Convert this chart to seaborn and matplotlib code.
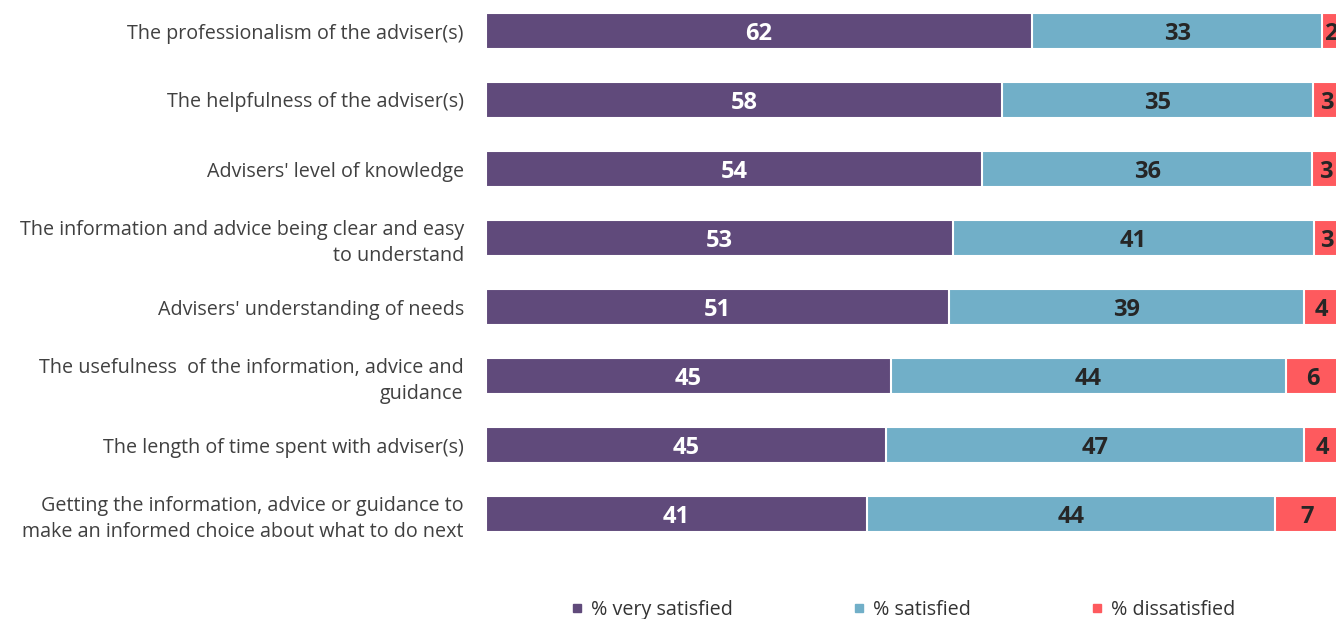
import pandas as pd
import numpy as np
import matplotlib
matplotlib.use("Agg")
import matplotlib.pyplot as plt
from matplotlib.lines import Line2D
import seaborn as sns

# --------------------------------------------------
# DATA
# --------------------------------------------------

categories = [
    "The professionalism of the adviser(s)",
    "The helpfulness of the adviser(s)",
    "Advisers' level of knowledge",
    "The information and advice being clear and easy\nto understand",
    "Advisers' understanding of needs",
    "The usefulness  of the information, advice and\nguidance",
    "The length of time spent with adviser(s)",
    "Getting the information, advice or guidance to\nmake an informed choice about what to do next",
]
very_satisfied = [62, 58, 54, 53, 51, 45, 45, 41]
satisfied = [33, 35, 36, 41, 39, 44, 47, 44]
dissatisfied = [2, 3, 3, 3, 4, 6, 4, 7]

series_names = ["% very satisfied", "% satisfied", "% dissatisfied"]
series_colors = ["#604A7B", "#71AFC8", "#FE5A5E"]
label_colors = ["white", "#262626", "#262626"]

# --------------------------------------------------
# PREP (100% stacked)
# --------------------------------------------------

df = pd.DataFrame({
    "category": categories,
    "very": very_satisfied,
    "sat": satisfied,
    "dis": dissatisfied,
})
total = df[["very", "sat", "dis"]].sum(axis=1)
for col in ["very", "sat", "dis"]:
    df[col + "_pct"] = df[col] / total * 100
df["cum1"] = df["very_pct"]
df["cum2"] = df["very_pct"] + df["sat_pct"]
df["cum3"] = df["cum2"] + df["dis_pct"]

# --------------------------------------------------
# PLOT
# --------------------------------------------------

sns.set_style("white")
plt.rcParams["font.family"] = ["Open Sans", "DejaVu Sans"]

fig = plt.figure(figsize=(13.36, 6.19), dpi=100)
ax = fig.add_axes([486 / 1336, 1 - 548.5 / 619, 854 / 1336, 552 / 619])

# draw cumulative bars from the longest to the shortest
for cum_col, color in zip(["cum3", "cum2", "cum1"], series_colors[::-1]):
    sns.barplot(data=df, x=cum_col, y="category", color=color, width=0.52,
                edgecolor="white", linewidth=1.5, saturation=1, ax=ax, orient="h")

ax.set_xlim(0, 100)
ax.set_ylim(7.5, -0.5)
ax.set_xlabel("")
ax.set_ylabel("")
ax.set_xticks([])
sns.despine(ax=ax, left=True, bottom=True, top=True, right=True)
ax.tick_params(axis="y", length=0, pad=16, labelsize=14.2, labelcolor="#404040")
for lbl in ax.get_yticklabels():
    lbl.set_linespacing(1.35)

# value labels centred in each segment (small nudge down for the font descent)
starts = [np.zeros(len(df)), df["cum1"].values, df["cum2"].values]
widths = [df["very_pct"].values, df["sat_pct"].values, df["dis_pct"].values]
values = [very_satisfied, satisfied, dissatisfied]
for s, w, v, c in zip(starts, widths, values, label_colors):
    for i in range(len(df)):
        ax.text(s[i] + w[i] / 2, i + 0.045, str(v[i]), ha="center", va="center",
                color=c, fontsize=17, fontweight="bold", clip_on=False)

handles = [Line2D([], [], marker="s", linestyle="", color=c, markersize=6)
           for c in series_colors]
fig.legend(handles, series_names, loc="center", ncol=3,
           bbox_to_anchor=(903 / 1336, 1 - 610 / 619), frameon=False,
           fontsize=14.2, labelcolor="#333333", handlelength=0.6,
           handletextpad=0.4, columnspacing=6.1)

fig.savefig("out.png", dpi=100)
